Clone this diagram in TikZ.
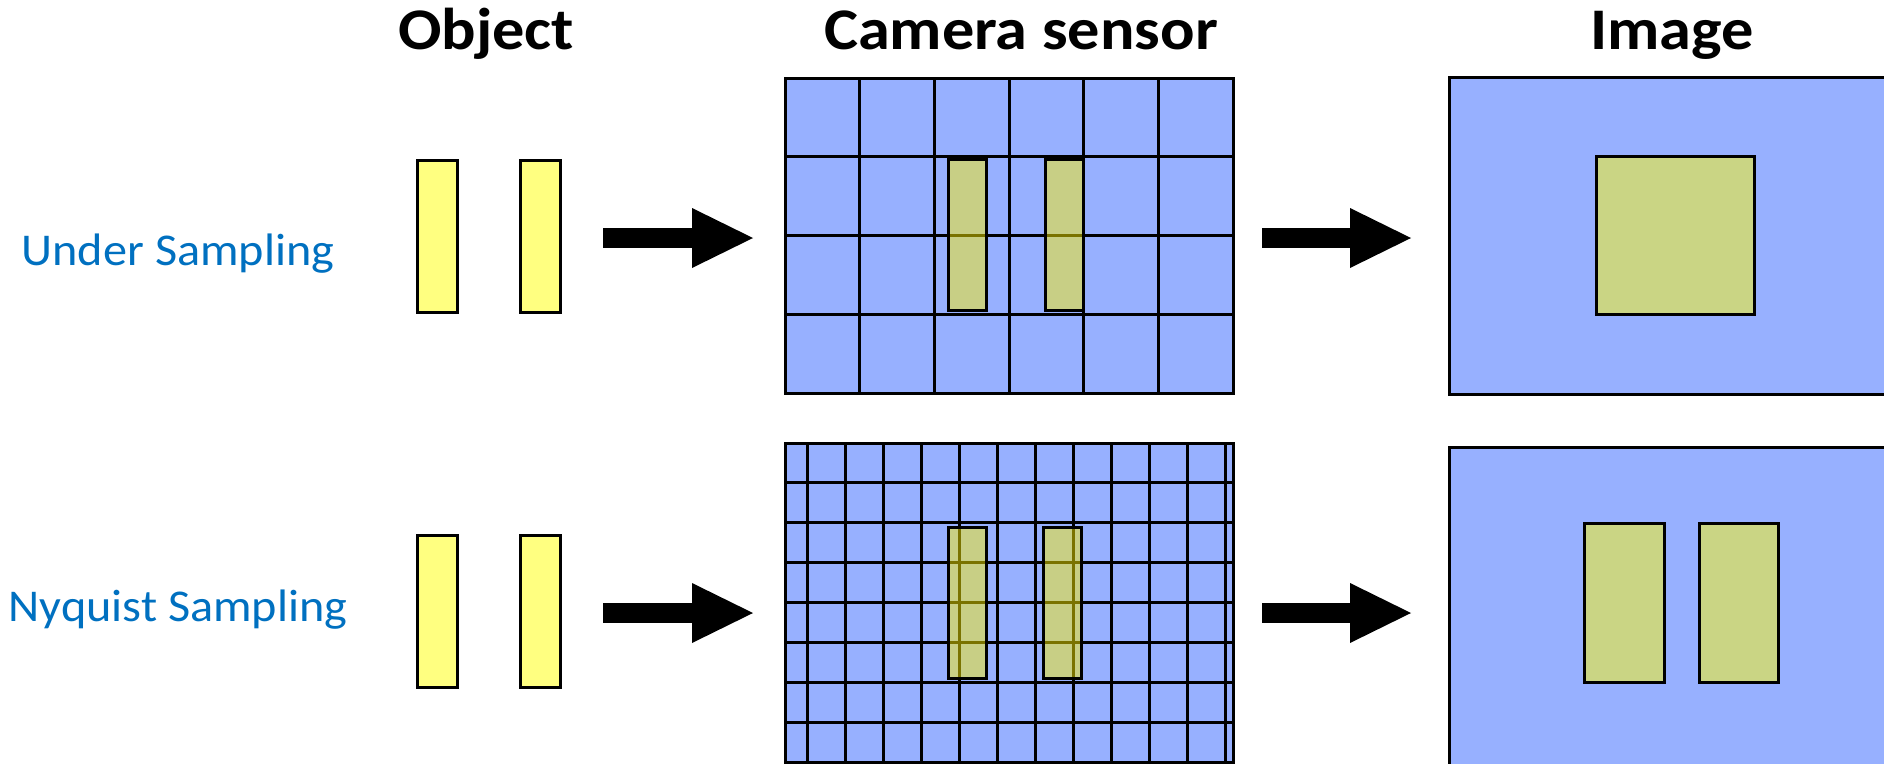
\documentclass[tikz,border=0pt]{standalone}
\usepackage{fontspec}
\setmainfont{Carlito}
\newfontfamily\titlefont[FakeStretch=1.09]{Carlito Bold}
\newfontfamily\labelfont[FakeStretch=1.06]{Carlito}
\usetikzlibrary{arrows.meta}
\definecolor{sensorblue}{HTML}{97B0FF}
\definecolor{objyellow}{HTML}{FFFF80}
\definecolor{imgolive}{HTML}{CAD584}
\definecolor{labelblue}{HTML}{0070C0}
\begin{document}
\begin{tikzpicture}[x=1pt,y=-1pt,
  box/.style={draw=black,line width=3pt,rectangle,inner sep=0pt,outer sep=0pt},
  objbar/.style={box,fill=objyellow,minimum width=40pt,minimum height=152pt},
  panel/.style={box,fill=sensorblue},
  overlay/.style={box,fill=yellow,fill opacity=0.48,minimum width=38pt,minimum height=151pt},
  imgrect/.style={box,fill=imgolive},
  gridline/.style={draw=black,line width=3pt},
  title/.style={font=\titlefont\fontsize{59}{62}\selectfont,inner sep=0pt,anchor=base},
  rowlabel/.style={font=\labelfont\fontsize{45.5}{50}\selectfont,text=labelblue,inner sep=0pt,anchor=base},
  bigarrow/.style={line width=20pt,-{Triangle[length=61pt,width=60pt,line width=0pt]}}
]
\useasboundingbox (0,0) rectangle (1884,763);
\clip (0,0) rectangle (1884,763);

% titles
\node[title] (tObj) at (486,49) {Object};
\node[title] (tCam) at (1021,49) {Camera sensor};
\node[title] (tImg) at (1672,49) {Image};

% row labels
\node[rowlabel] (lUnder) at (178,265) {Under Sampling};
\node[rowlabel] (lNyq) at (178,621) {Nyquist Sampling};

% objects
\node[objbar] (o1a) at (437,236) {};
\node[objbar] (o1b) at (540,236) {};
\node[objbar] (o2a) at (437,611) {};
\node[objbar] (o2b) at (540,611) {};

% top sensor (coarse)
\node[panel,minimum width=448pt,minimum height=315pt] (s1) at (1009,235.5) {};
\foreach \i in {1,...,5}
  \draw[gridline] (785+\i*74.667,78) -- (785+\i*74.667,393);
\foreach \j in {1,2,3}
  \draw[gridline] (785,78+\j*78.75) -- (1233,78+\j*78.75);
\node[panel,fill=none,minimum width=448pt,minimum height=315pt] (s1b) at (1009,235.5) {};
\node[overlay] (s1o1) at (967,235) {};
\node[overlay] (s1o2) at (1064,235) {};

% bottom sensor (fine)
\node[panel,minimum width=448pt,minimum height=319pt] (s2) at (1009,602.5) {};
\foreach \k in {0,...,11}
  \draw[gridline] (807+\k*38,443) -- (807+\k*38,762);
\foreach \j in {1,...,7}
  \draw[gridline] (785,443+\j*39.875) -- (1233,443+\j*39.875);
\node[panel,fill=none,minimum width=448pt,minimum height=319pt] (s2b) at (1009,602.5) {};
\node[overlay] (s2o1) at (967,602.5) {};
\node[overlay] (s2o2) at (1062,602.5) {};

% images
\node[panel,minimum width=460pt,minimum height=317pt] (i1) at (1679,235.5) {};
\node[imgrect,minimum width=158pt,minimum height=158pt] (i1r) at (1675,235) {};
\node[panel,minimum width=460pt,minimum height=340pt] (i2) at (1679,617) {};
\node[imgrect,minimum width=80pt,minimum height=159pt] (i2a) at (1624,602.5) {};
\node[imgrect,minimum width=79pt,minimum height=159pt] (i2b) at (1738.5,602.5) {};

% arrows
\coordinate (a1s) at (603,238);
\coordinate (a1e) at (753,238);
\coordinate (a2s) at (1262,238);
\coordinate (a2e) at (1411,238);
\coordinate (a3s) at (603,613);
\coordinate (a3e) at (753,613);
\coordinate (a4s) at (1262,613);
\coordinate (a4e) at (1411,613);
\draw[bigarrow] (a1s) -- (a1e);
\draw[bigarrow] (a2s) -- (a2e);
\draw[bigarrow] (a3s) -- (a3e);
\draw[bigarrow] (a4s) -- (a4e);
\end{tikzpicture}
\end{document}
